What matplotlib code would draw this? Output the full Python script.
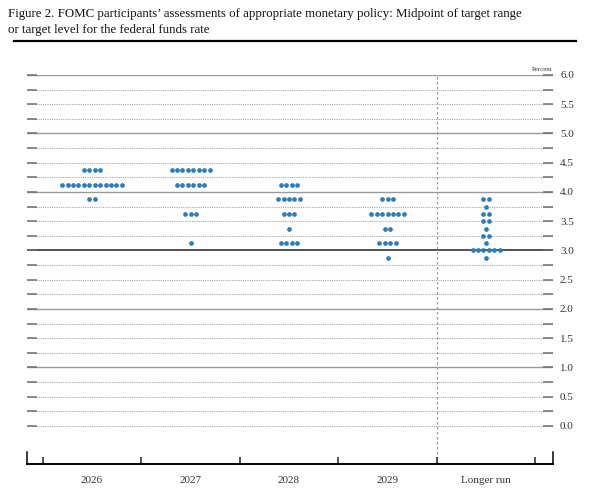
import numpy as np
import matplotlib
matplotlib.use("Agg")
import matplotlib.pyplot as plt
from matplotlib.ticker import FixedLocator, NullFormatter

plt.rcParams['font.family'] = ['Liberation Serif', 'DejaVu Serif']

# projection periods
periods = ['2026', '2027', '2028', '2029', 'Longer run']

# midpoint levels and number of participants at each level, per period
rates_2026 = [4.375, 4.125, 3.875]
counts_2026 = [4, 12, 2]

rates_2027 = [4.375, 4.125, 3.625, 3.125]
counts_2027 = [8, 6, 3, 1]

rates_2028 = [4.125, 3.875, 3.625, 3.375, 3.125]
counts_2028 = [4, 5, 3, 1, 4]

rates_2029 = [3.875, 3.625, 3.375, 3.125, 2.875]
counts_2029 = [3, 7, 2, 4, 1]

rates_lr = [3.875, 3.75, 3.625, 3.5, 3.375, 3.25, 3.125, 3.0, 2.875]
counts_lr = [2, 1, 2, 2, 1, 2, 1, 6, 1]

all_rates = [rates_2026, rates_2027, rates_2028, rates_2029, rates_lr]
all_counts = [counts_2026, counts_2027, counts_2028, counts_2029, counts_lr]

dot_color = '#2f7db8'
dot_step = 0.055   # horizontal spacing between dots, in category units

fig = plt.figure(figsize=(6.02, 5.0), dpi=100)
ax = fig.add_axes([0.0449, 0.0726, 0.8738, 0.7774])

# horizontal reference lines
for lvl in np.arange(0, 6.01, 0.25):
    if abs(lvl - 3.0) < 1e-9:
        ax.axhline(lvl, color='#222222', lw=1.1, zorder=1)
    elif abs(lvl - round(lvl)) < 1e-9 and lvl > 0:
        ax.axhline(lvl, color='#9a9a9a', lw=1.0, zorder=1)
    else:
        ax.axhline(lvl, color='#a8a8a8', lw=0.8, ls=(0, (1, 1)), zorder=1)

# divider before the longer-run column
ax.axvline(3.5, color='#9a9a9a', lw=0.9, ls=(0, (2, 2)), zorder=1)

# dots
for i, (rates, counts) in enumerate(zip(all_rates, all_counts)):
    for r, n in zip(rates, counts):
        xs = i + (np.arange(n) - (n - 1) / 2) * dot_step
        ax.plot(xs, [r] * n, 'o', color=dot_color, ms=3.4, mew=0, zorder=3)

ax.set_xlim(-0.66, 4.68)
ax.set_ylim(-0.645, 6.0)

# spines
ax.spines['top'].set_visible(False)
ax.spines['bottom'].set_linewidth(1.4)
ax.spines['left'].set_bounds(-0.645, -0.44)
ax.spines['right'].set_bounds(-0.645, -0.44)
ax.spines['left'].set_linewidth(1.1)
ax.spines['right'].set_linewidth(1.1)

# y axis: labels on right, short inward ticks on both sides
ax.yaxis.set_major_locator(FixedLocator(np.arange(0, 6.01, 0.5)))
ax.yaxis.set_minor_locator(FixedLocator(np.arange(0.25, 6.0, 0.5)))
ax.yaxis.set_major_formatter(matplotlib.ticker.FormatStrFormatter('%.1f'))
ax.tick_params(axis='y', which='both', left=True, right=True, labelleft=False,
               labelright=True, direction='in', length=7, width=1.1,
               color='#6e6e6e', labelsize=8, labelcolor='#333333', pad=5)

# x axis: boundary ticks, labels at centres
ax.xaxis.set_major_locator(FixedLocator(np.arange(-0.5, 4.6, 1.0)))
ax.xaxis.set_major_formatter(NullFormatter())
ax.xaxis.set_minor_locator(FixedLocator(range(len(periods))))
ax.set_xticklabels(periods, minor=True)
ax.tick_params(axis='x', which='major', direction='in', length=5, width=1.1, color='#222222')
ax.tick_params(axis='x', which='minor', length=0, labelsize=8, labelcolor='#333333', pad=8.5)

ax.text(1.0, 6.05, 'Percent', transform=ax.get_yaxis_transform(), ha='right',
        va='bottom', fontsize=5, color='#333333')

# title and rule
fig.text(0.014, 0.972, 'Figure 2. FOMC participants\u2019 assessments of appropriate monetary policy: Midpoint of target range',
         fontsize=9.3, va='center', ha='left', color='#111111')
fig.text(0.014, 0.94, 'or target level for the federal funds rate', fontsize=9.3, va='center', ha='left',
         color='#111111')
fig.add_artist(plt.Line2D([0.023, 0.957], [0.918, 0.918], color='black', lw=1.6))

fig.savefig('out.png', dpi=100)
